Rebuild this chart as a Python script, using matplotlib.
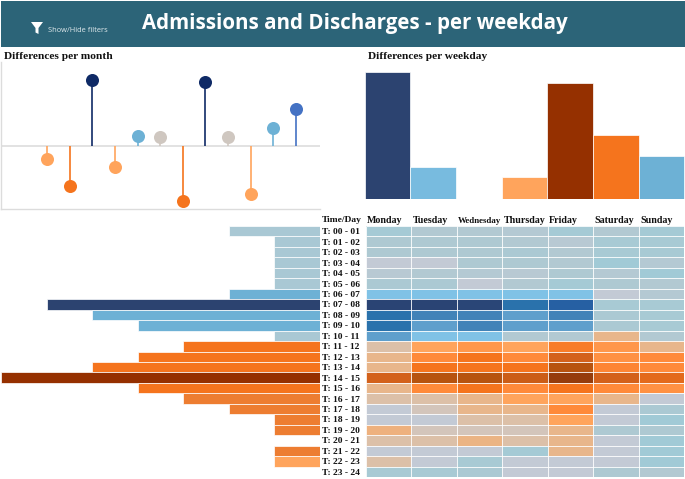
import matplotlib
matplotlib.use("Agg")
import matplotlib.pyplot as plt
from matplotlib.colors import LinearSegmentedColormap, Normalize
from matplotlib.patches import Rectangle, Polygon
from matplotlib.transforms import ScaledTranslation
import numpy as np

W, H = 685, 479
SERIF = "Liberation Serif"
SANS = "Open Sans"

title = "Admissions and Discharges - per weekday"
months = list(range(1, 13))
month_diff = [-13, -40, 66, -21, 9.5, 8.5, -55, 63.5, 8.5, -48, 17.5, 36.5]
month_colors = ["#ffa45c", "#f5741d", "#0f2a66", "#ffa45c", "#6db1d5", "#cfc7c0",
                "#f5741d", "#0f2a66", "#cfc7c0", "#ffa45c", "#6db1d5", "#4472c4"]

weekdays = ["Monday", "Tuesday", "Wednesday", "Thursday", "Friday", "Saturday", "Sunday"]
weekday_diff = [126.5, 32, 0, 21.5, 116, 63.5, 42.5]
weekday_colors = ["#2c4370", "#78bbdf", "#ffffff", "#ffa45c", "#953000", "#f5741d", "#6db1d5"]

hours = [f"T: {h:02d} - {h + 1:02d}" for h in range(24)]
hour_totals = [2, 1, 1, 1, 1, 1, 2, 6, 5, 4, 1, 3, 4, 5, 7, 4, 3, 2, 1, 1, 0, 1, 1, 0]
L, B, N, O, D, M, P = "#a9c8d4", "#6db1d5", "#2c4370", "#f5741d", "#953000", "#ed7d31", "#ffa45c"
hour_colors = [L, L, L, L, L, L, B, N, B, B, L, O, O, O, D, O, M, M, M, M, L, M, P, L]

grid = np.array([
    [-1.0, -.6, -.6, -.5, -1.0, -.6, -1.0],
    [-.7, -.7, -.7, -.6, -.4, -.9, -.9],
    [-.7, -.7, -.7, -.8, -.6, -.9, -.9],
    [-.2, -.2, -.7, -.7, -.6, -1.1, -.5],
    [-.4, -.6, -.5, -.4, -.7, -.5, -1.1],
    [-.8, -.8, -.2, -.6, -1.0, -.7, -.6],
    [-2, -2, -2, -2, -2, -.2, -.5],
    [-7, -7, -6.9, -5, -6, -.9, -.9],
    [-5, -4, -4, -3, -4, -.8, -.9],
    [-5, -3, -4, -3, -3, -.8, -.9],
    [-3, -2, -2, -.6, -.6, .7, -.6],
    [.3, 1.5, 2, 1.5, 2.8, 2, .7],
    [.7, 2.5, 3, 2.5, 4, 2.2, 2.5],
    [.7, 3, 3, 3, 5, 2.6, 2.5],
    [4, 5, 5, 4.3, 6, 4, 3.5],
    [.7, 2.5, 3, 2.5, 3, 2.5, 2.2],
    [.3, .3, .7, 1.5, 1.5, .7, -.2],
    [-.2, .1, .7, .7, 2.5, -.2, -.8],
    [-.2, -.2, .3, .3, 1.5, -.2, -1.1],
    [.9, .1, .1, .1, .7, -.7, -.7],
    [.3, .3, .8, .3, .7, -.2, -1.1],
    [-.2, -.2, -.2, -1.0, .7, -.2, -1.1],
    [.3, -.2, -.9, -.2, -.2, -.2, -1.1],
    [-.9, -.9, -.8, -.2, -.2, -.7, -.6],
])

ramp = [(-7, "#2a4474"), (-6, "#2660a4"), (-5, "#2a72ac"), (-4, "#4384b8"), (-3, "#5f9fcc"),
        (-2, "#80c2e6"), (-1.1, "#a2cad6"), (-.7, "#aec9d2"), (-.4, "#b8c9d3"), (-.2, "#c3cad6"),
        (0, "#cfc7c2"), (.3, "#dcc0a8"), (.7, "#e8b68a"), (1.5, "#ffa45c"), (2.5, "#ff8a3a"),
        (3, "#f5741d"), (4, "#d4611b"), (5, "#b8540f"), (6, "#953c0c"), (7, "#7a2c00")]
cmap = LinearSegmentedColormap.from_list("div", [((v + 7) / 14, c) for v, c in ramp])
norm = Normalize(-7, 7)


def px_axes(x0, y0, x1, y1):
    """Axes from pixel box with y measured from the top of the image."""
    return fig.add_axes([x0 / W, 1 - y1 / H, (x1 - x0) / W, (y1 - y0) / H])


fig = plt.figure(figsize=(W / 100, H / 100), dpi=100, facecolor="white")

# Header
fig.add_artist(Rectangle((1 / W, 1 - 47 / H), 684 / W, 46 / H, transform=fig.transFigure,
                         facecolor="#2c6478", edgecolor="none"))
fig.text(355 / W, 1 - 23 / H, title, color="white", fontsize=14.8, fontweight="bold",
         family=SANS, ha="center", va="center")
fig.text(48 / W, 1 - 31 / H, "Show/Hide filters", color="#dfe9ec", fontsize=5.4,
         family=SANS, ha="left", va="center")
fig.add_artist(Polygon([(px / W, 1 - py / H) for px, py in
                        [(31, 22), (43, 22), (38.5, 28), (38.5, 34), (35.5, 32.5), (35.5, 28)]],
                       closed=True, transform=fig.transFigure, facecolor="white", edgecolor="none"))

fig.text(4 / W, 1 - 56.5 / H, "Differences per month", fontsize=8.2, fontweight="bold",
         family=SERIF, color="#111111", ha="left", va="center")
fig.text(368 / W, 1 - 56.5 / H, "Differences per weekday", fontsize=8.2, fontweight="bold",
         family=SERIF, color="#111111", ha="left", va="center")

# Lollipops
ax = px_axes(1, 62, 320, 209)
ax.set_ylim(-63.5, 83.5)
ax.set_xlim(1 - (47 - 1) / 22.64, 1 + (320 - 47) / 22.64)
for m, v, c in zip(months, month_diff, month_colors):
    ax.plot([m, m], [0, v], color=c, lw=1.2, zorder=2, solid_capstyle="butt")
    ax.scatter([m], [v], s=88, color=c, zorder=3, linewidths=0)
ax.axhline(0, color="#e2e2e2", lw=1.4, zorder=1)
ax.set_xticks([])
ax.set_yticks([])
for s in ("top", "right"):
    ax.spines[s].set_visible(False)
for s in ("left", "bottom"):
    ax.spines[s].set_color("#dcdcdc")
    ax.spines[s].set_linewidth(1.0)

# Weekday bars
ax = px_axes(364.5, 62, 684.5, 198.5)
ax.bar(range(7), weekday_diff, width=1, color=weekday_colors, edgecolor="#ffffff", linewidth=0.5)
ax.set_xlim(-.5, 6.5)
ax.set_ylim(0, 136.5)
ax.axis("off")

# Hour bars
ax = px_axes(1, 226, 320, 477)
ax.barh(range(24), hour_totals, height=1, color=hour_colors, edgecolor="#ffffff", linewidth=0.5)
ax.set_xlim(7, 0)
ax.set_ylim(23.5, -.5)
ax.axis("off")

# Heatmap
ax = px_axes(365.5, 226, 684, 477)
ax.pcolormesh(np.arange(8) - .5, np.arange(25) - .5, grid, cmap=cmap, norm=norm, linewidth=0)
ax.hlines(np.arange(25) - .5, -.5, 6.5, color="white", lw=0.6)
ax.vlines(np.arange(8) - .5, -.5, 23.5, color="white", lw=0.6)
ax.set_xlim(-.5, 6.5)
ax.set_ylim(23.5, -.5)
for s in ax.spines.values():
    s.set_visible(False)
ax.xaxis.tick_top()
ax.tick_params(length=0)
ax.set_xticks(np.arange(7) - .5)
ax.set_xticklabels(weekdays, fontsize=7.2, fontweight="bold", family=SERIF, ha="left", color="#111111")
ax.tick_params(axis="x", pad=1.0)
shift = ScaledTranslation(1.5 / 100, 0, fig.dpi_scale_trans)
for lab in ax.get_xticklabels():
    lab.set_transform(lab.get_transform() + shift)
    if lab.get_text() == "Wednesday":
        lab.set_fontsize(6.4)
ax.set_yticks(range(24))
ax.set_yticklabels(hours, fontsize=6.8, fontweight="bold", family=SERIF, ha="left", color="#111111")
ax.tick_params(axis="y", pad=31.5)
fig.text(321.5 / W, 1 - 220 / H, "Time/Day", fontsize=6.8, fontweight="bold", family=SERIF,
         color="#111111", ha="left", va="center")

fig.savefig("out.png", dpi=100, facecolor="white")
